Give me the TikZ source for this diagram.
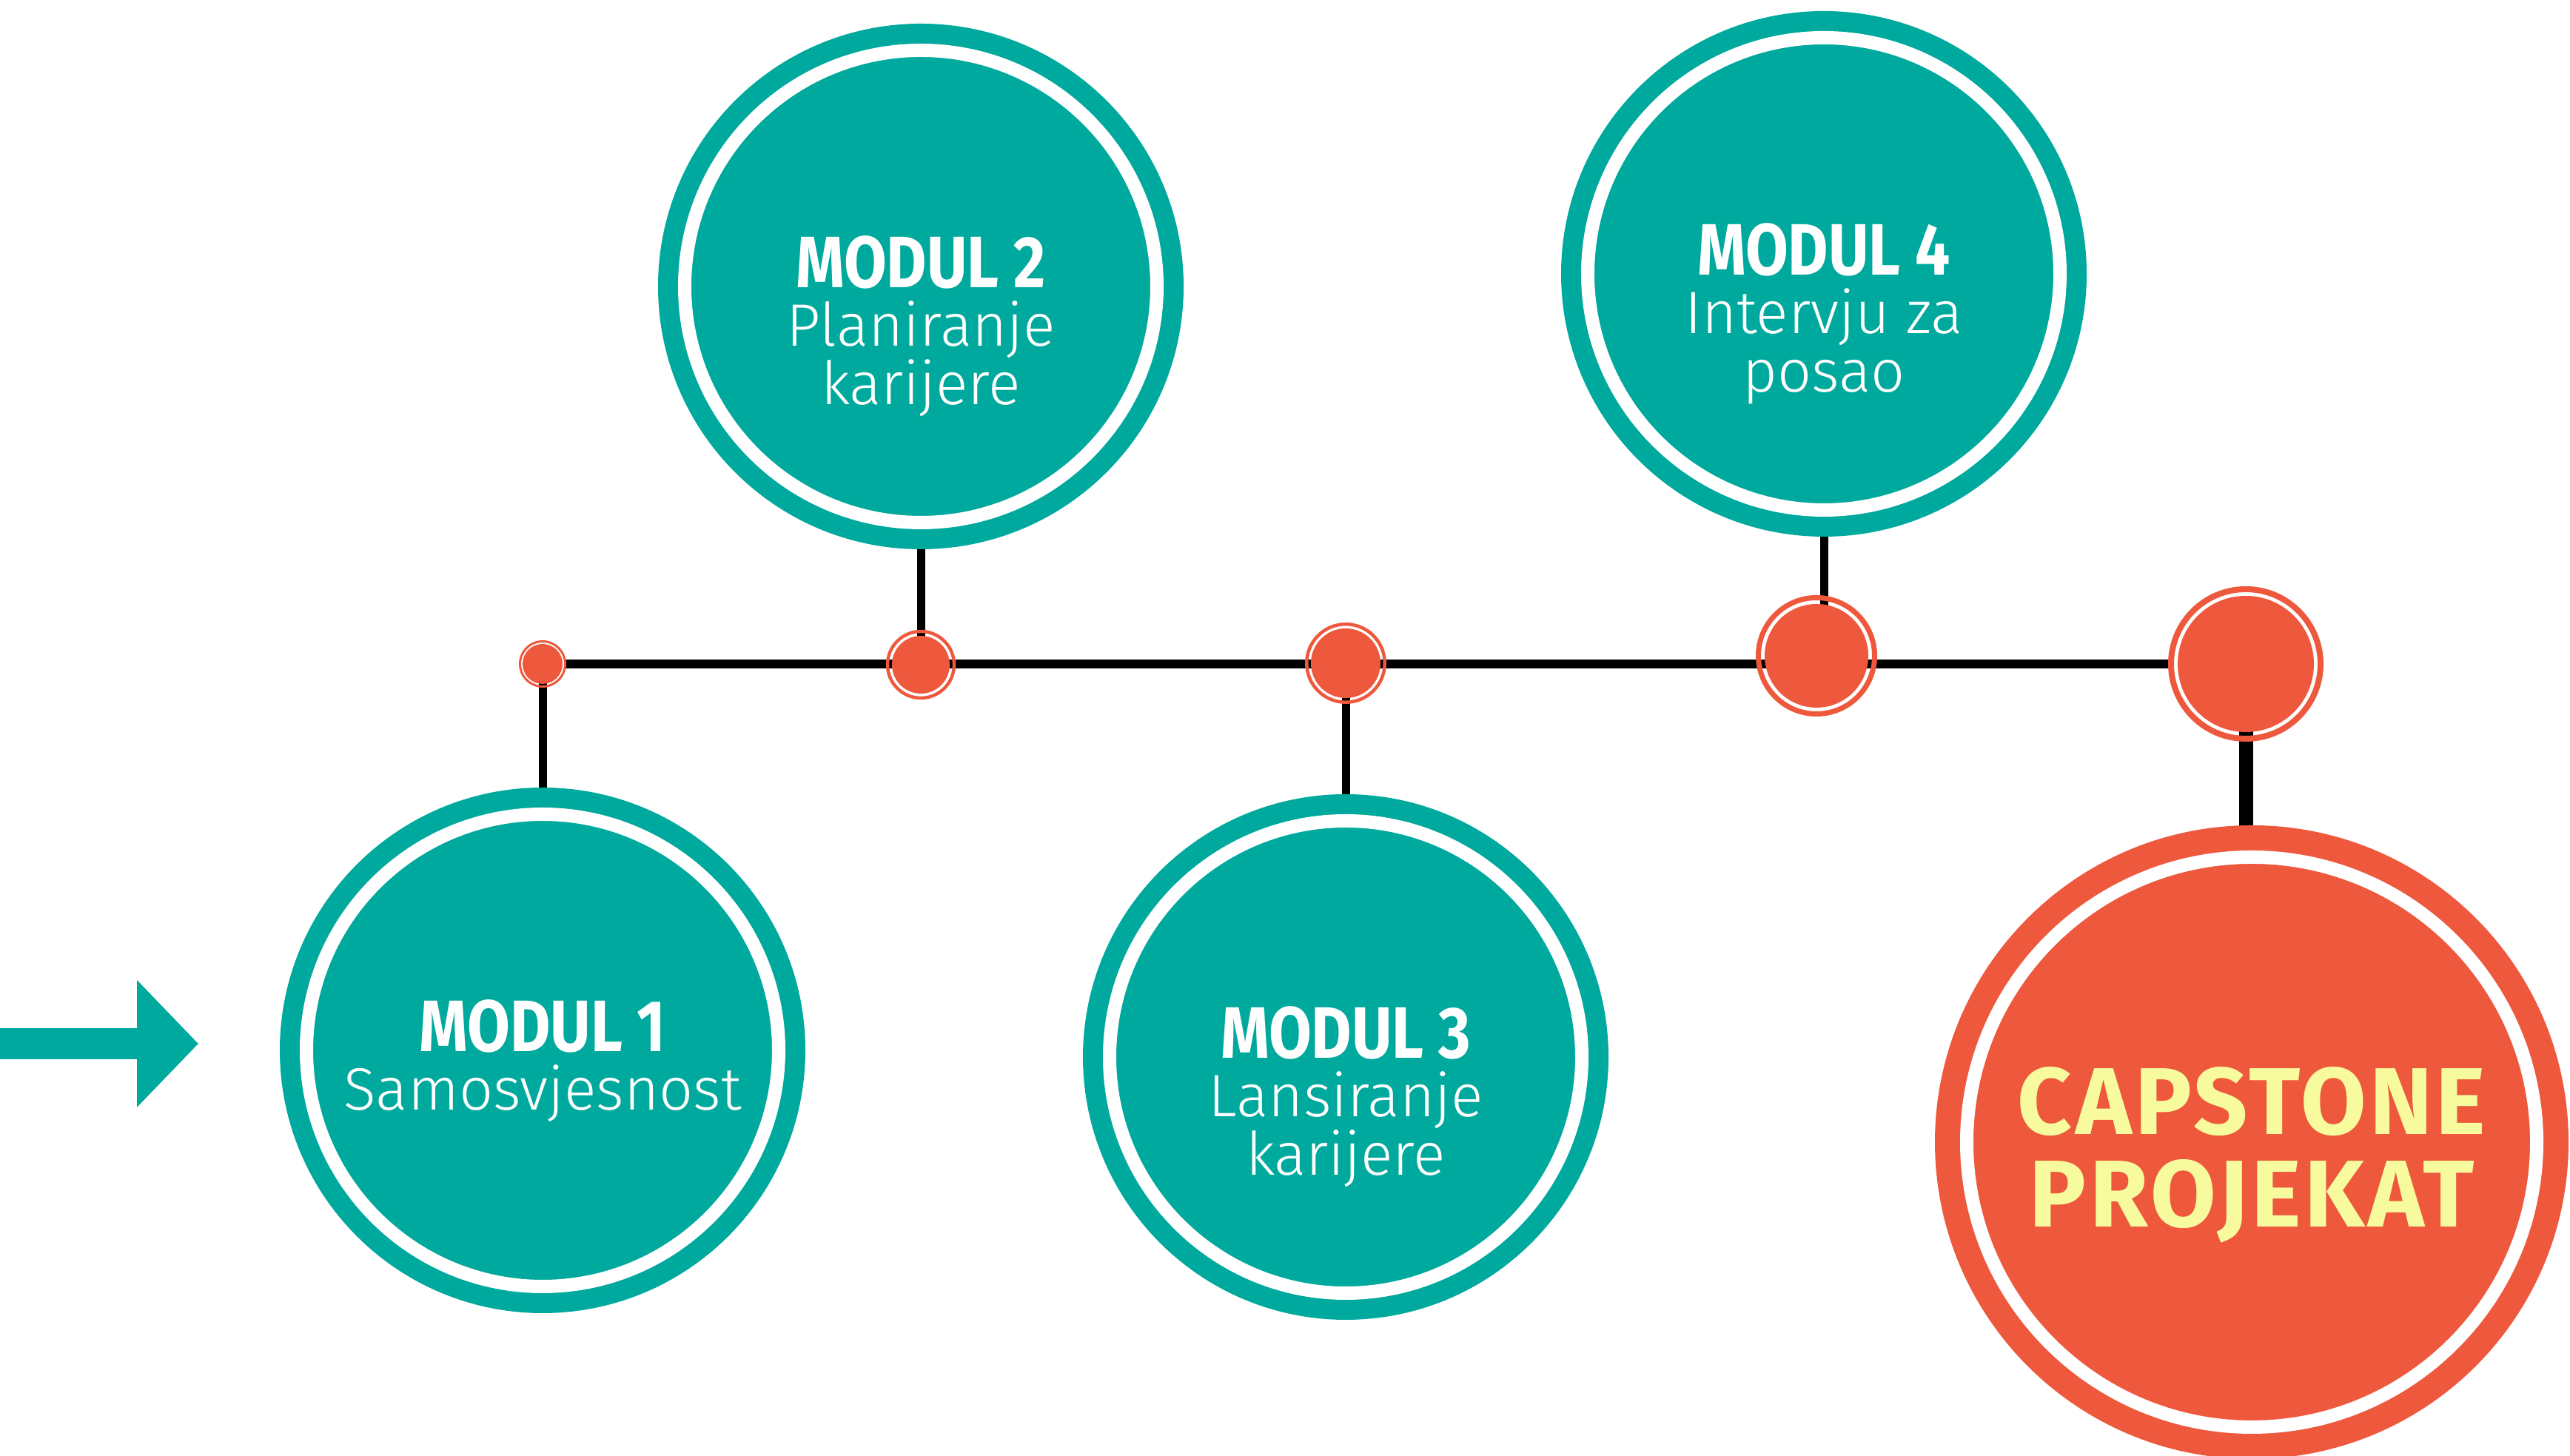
\documentclass[tikz,border=0pt]{standalone}
\usepackage{fontspec}
\usetikzlibrary{arrows.meta,backgrounds}
\newfontfamily\titlefont{Fira Sans Bold}[FakeStretch=0.85]
\newfontfamily\subfont{Fira Sans Light}
\newfontfamily\capfont{Fira Sans Bold}[LetterSpace=3.5]
\definecolor{modteal}{HTML}{00A99D}
\definecolor{accent}{HTML}{EE583D}
\definecolor{capyellow}{HTML}{F8FB9D}
\newcommand\modtitle[1]{{\titlefont\fontsize{28}{22.5}\selectfont #1}}
\tikzset{
  module/.style={circle, fill=modteal, draw=modteal, double=white, double distance=0.18cm,
    line width=0.27cm, minimum size=6.38cm, inner sep=0pt, outer sep=0pt},
  capstone/.style={module, fill=accent, draw=accent, line width=0.34cm, minimum size=7.70cm},
  modtext/.style={text=white, align=center, inner sep=0pt, anchor=north,
    font=\subfont\fontsize{23}{22.5}\selectfont},
  captext/.style={modtext, text=capyellow, font=\capfont\fontsize{36.5}{35.6}\selectfont},
  dot/.style n args={3}{circle, draw=accent, line width=#2, minimum size=#1, inner sep=0pt,
    outer sep=0pt, path picture={\fill[accent] (path picture bounding box.center) circle[radius=#3];}},
  stem/.style={line width=0.11cm},
  timeline/.style={line width=0.12cm},
  flow/.style={draw=modteal, line width=0.42cm, -{Triangle[length=0.83cm, width=1.67cm]}},
}
\begin{document}
\begin{tikzpicture}
\useasboundingbox (0,0) rectangle (34.72,19.67);
% modules
\node[module] (mod1) at (7.33,5.48) {};
\node[module] (mod2) at (12.44,15.80) {};
\node[module] (mod3) at (18.18,5.39) {};
\node[module] (mod4) at (24.64,15.97) {};
\node[capstone] (cap) at (30.42,4.24) {};
\node[modtext] (txt1) at ([yshift=0.69cm]mod1.center) {\modtitle{MODUL 1}\\Samosvjesnost};
\node[modtext] (txt2) at ([yshift=0.69cm]mod2.center) {\modtitle{MODUL 2}\\Planiranje\\karijere};
\node[modtext] (txt3) at ([yshift=0.69cm]mod3.center) {\modtitle{MODUL 3}\\Lansiranje\\karijere};
\node[modtext] (txt4) at ([yshift=0.69cm]mod4.center) {\modtitle{MODUL 4}\\Intervju za\\posao};
\node[captext] (txt5) at ([yshift=1.02cm]cap.center) {CAPSTONE\\PROJEKAT};
% milestones
\node[dot={0.61cm}{0.03cm}{0.27cm}] (dot1) at (7.33,10.70) {};
\node[dot={0.90cm}{0.044cm}{0.39cm}] (dot2) at (12.44,10.69) {};
\node[dot={1.055cm}{0.045cm}{0.47cm}] (dot3) at (18.18,10.71) {};
\node[dot={1.57cm}{0.07cm}{0.70cm}] (dot4) at (24.54,10.81) {};
\node[dot={2.02cm}{0.08cm}{0.92cm}] (dot5) at (30.34,10.70) {};
\begin{scope}[on background layer]
  \draw[timeline] (dot1) -- (dot5);
  \draw[stem] (dot1.center) -- (mod1);
  \draw[stem] (mod2) -- (dot2.center);
  \draw[stem] (dot3.center) -- (mod3);
  \draw[stem] (mod4.south) -- (mod4 |- dot4.center);
  \draw[stem, line width=0.19cm] (dot5.center) -- (dot5 |- cap.north);
\end{scope}
% entry arrow
\coordinate (in) at (0,5.57);
\coordinate (tip) at (2.68,5.57);
\draw[flow] (in) -- (tip);
\end{tikzpicture}
\end{document}
